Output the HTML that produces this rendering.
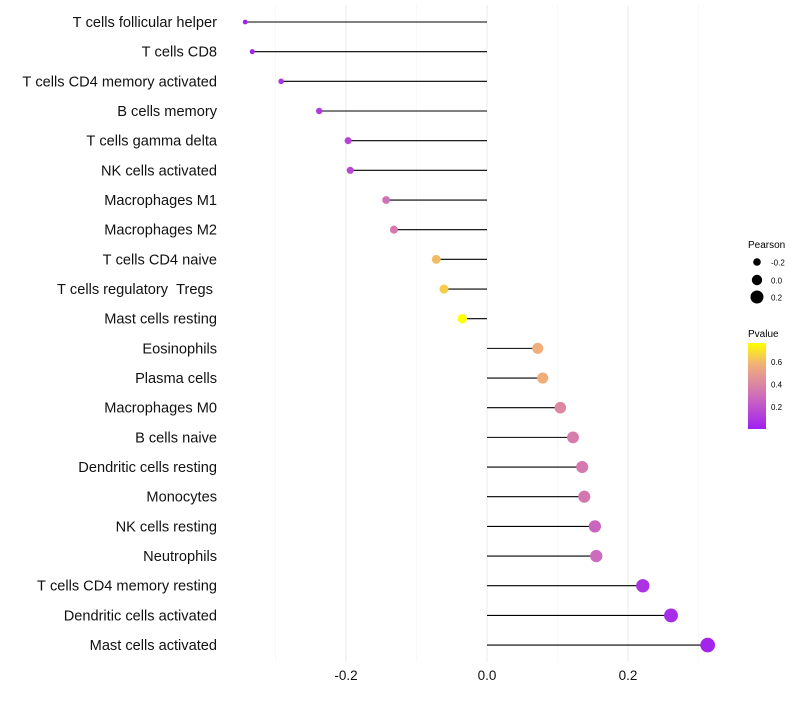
<!DOCTYPE html>
<html><head><meta charset="utf-8"><style>
body{margin:0;background:#fff;font-family:"Liberation Sans",sans-serif}
</style></head><body>
<svg id="chart" width="800" height="700" xmlns="http://www.w3.org/2000/svg" font-family="Liberation Sans, sans-serif">
<defs><linearGradient id="pg" x1="0" y1="1" x2="0" y2="0">
<stop offset="0" stop-color="#a020f0"/><stop offset="0.4" stop-color="#d070b8"/><stop offset="0.75" stop-color="#f0b078"/><stop offset="1" stop-color="#ffff00"/></linearGradient></defs>
<g id="grid"></g>
<g id="marks"></g>
<g id="ylab"></g>
<g id="xlab"></g>
<g>
<text x="748" y="248" font-size="10">Pearson</text>
<circle cx="757" cy="262" r="3.8" fill="#000"/>
<text x="771" y="265.5" font-size="8">-0.2</text>
<circle cx="757" cy="280" r="5.2" fill="#000"/>
<text x="771" y="283.5" font-size="8">0.0</text>
<circle cx="757" cy="297" r="6.5" fill="#000"/>
<text x="771" y="300.5" font-size="8">0.2</text>
</g>
<g>
<text x="748" y="337" font-size="10">Pvalue</text>
<rect x="748" y="343" width="18" height="86" fill="url(#pg)"/>
<text x="771" y="365" font-size="8">0.6</text>
<text x="771" y="387.5" font-size="8">0.4</text>
<text x="771" y="410" font-size="8">0.2</text>
</g>
</svg>
<script>
const categories=["T cells follicular helper","T cells CD8","T cells CD4 memory activated","B cells memory","T cells gamma delta","NK cells activated","Macrophages M1","Macrophages M2","T cells CD4 naive","T cells regulatory  Tregs ","Mast cells resting","Eosinophils","Plasma cells","Macrophages M0","B cells naive","Dendritic cells resting","Monocytes","NK cells resting","Neutrophils","T cells CD4 memory resting","Dendritic cells activated","Mast cells activated"];
const pearson=[-0.343,-0.333,-0.292,-0.238,-0.197,-0.194,-0.143,-0.132,-0.072,-0.061,-0.035,0.072,0.079,0.104,0.122,0.135,0.138,0.153,0.155,0.221,0.261,0.313];
const pvalue=[0.01,0.02,0.08,0.1,0.14,0.15,0.3,0.34,0.6,0.64,0.76,0.56,0.56,0.4,0.35,0.34,0.33,0.26,0.28,0.07,0.05,0.02];
const xTicks=[-0.2,0.0,0.2];
const xMinor=[-0.3,-0.1,0.1,0.3];
const NS="http://www.w3.org/2000/svg";
const X=v=>487+v*705;
const Y=i=>22+i*29.67;
const R=v=>Math.max(1.5,5+7.5*v);
function lerp(a,b,t){return a.map((x,i)=>Math.round(x+(b[i]-x)*t));}
function col(p){
  const st=[[0,[160,32,240]],[0.3,[208,112,184]],[0.57,[240,176,120]],[0.76,[255,255,0]]];
  p=Math.min(0.76,Math.max(0,p));
  for(let i=0;i<st.length-1;i++){if(p<=st[i+1][0]){const c=lerp(st[i][1],st[i+1][1],(p-st[i][0])/(st[i+1][0]-st[i][0]));return `rgb(${c})`;}}
  return "rgb(255,255,0)";
}
function mk(t,a,parent){const e=document.createElementNS(NS,t);for(const k in a)e.setAttribute(k,a[k]);parent.appendChild(e);return e;}
const grid=document.getElementById('grid'),marks=document.getElementById('marks'),ylab=document.getElementById('ylab'),xlab=document.getElementById('xlab');
xMinor.forEach(v=>{const l=mk('line',{x1:X(v),x2:X(v),y1:5,y2:662,stroke:'#f3f3f3','stroke-width':0.6},grid);

});
xTicks.forEach(v=>{const l=mk('line',{x1:X(v),x2:X(v),y1:5,y2:662,stroke:'#ebebeb','stroke-width':1},grid);


const t=mk('text',{x:X(v),y:680,'font-size':13.5,'text-anchor':'middle',fill:'#111'},xlab);t.textContent=v.toFixed(1);

});
categories.forEach((c,i)=>{
  const y=Y(i);
  const l=mk('line',{x1:X(0),x2:X(pearson[i]),y1:y,y2:y,stroke:'#000','stroke-width':1.1},marks);
  
  
  const d=mk('circle',{cx:X(pearson[i]),cy:y,r:R(pearson[i]),fill:col(pvalue[i])},marks);
  
  
  const t=mk('text',{x:217,y:y+5,'font-size':14.6,'text-anchor':'end',fill:'#111'},ylab);
  t.textContent=c.replace(/ /g,'\u00a0');
  
  
});
</script>
</body></html>
